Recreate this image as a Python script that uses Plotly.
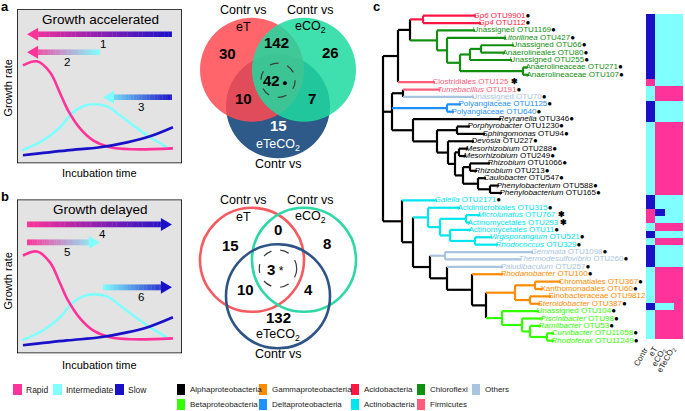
import plotly.graph_objects as go

W, H = 685, 411
FONT = "Liberation Sans, Arial, sans-serif"

RAPID, INTER, SLOW = "#FF3399", "#80FFFF", "#1A10C8"

# ---------------- panels a / b : schematic growth curves (time 0-10, rate 0-10) ----------------
rapid_t = [0.36, 1.21, 2.0, 2.61, 3.09, 3.82, 4.61, 5.64, 7.03, 9.45]
rapid_r = [6.36, 6.62, 5.91, 4.55, 3.44, 2.27, 1.49, 1.04, 0.91, 0.97]
inter_t = [0.30, 1.58, 2.61, 3.33, 4.0, 4.61, 5.45, 6.24, 7.03, 8.06, 9.09]
inter_r = [0.84, 1.49, 2.34, 3.25, 3.70, 3.83, 3.70, 3.12, 2.47, 1.69, 1.04]
slow_t = [0.36, 3.03, 5.03, 6.67, 8.06, 9.45]
slow_r = [0.52, 0.84, 1.04, 1.36, 1.75, 2.34]

arrow_labels_a = ["1", "2", "3"]
arrow_labels_b = ["4", "5", "6"]
arrow_left = [0.61, 0.61, 5.21]
arrow_right = [9.39, 5.03, 9.39]
arrow_level = [8.38, 7.21, 4.29]
arrow_left_color = [RAPID, RAPID, INTER]
arrow_right_color = [SLOW, INTER, SLOW]

# ---------------- Venn diagrams ----------------
venn_regions = ["eT", "eCO2", "eT+eCO2", "all", "eT+eTeCO2", "eCO2+eTeCO2", "eTeCO2"]
venn_a_counts = [30, 26, 142, 42, 10, 7, 15]
venn_b_counts = [15, 8, 0, 3, 10, 4, 132]

# ---------------- panel c : tree ----------------
TREE = {
    "root": [("A", 15), ("M", 9), ("L", 19)],
    "A": [("A1", 12), ("OTU125", 37)],
    "A1": [("Acd", 13), ("Chl", 27)],
    "Acd": [("OTU9901", 53), ("OTU112", 58)],
    "Chl": [("OTU1169", 38), ("C2", 10)],
    "C2": [("OTU427", 59), ("C3", 13)],
    "C3": [("C4", 10), ("C6", 63)],
    "C4": [("C5", 11), ("OTU255", 42)],
    "C5": [("OTU66", 33), ("OTU80", 24)],
    "C6": [("OTU271", 5), ("OTU107", 6)],
    "M": [("T", 11), ("D", 55), ("AL", 21)],
    "T": [("OTU191", 37), ("OTU70", 71)],
    "D": [("OTU1125", 14), ("OTU640", 7)],
    "AL": [("OTU346", 88), ("AL2", 24)],
    "AL2": [("P", 20), ("AL3", 11)],
    "P": [("OTU1230", 13), ("OTU94", 28)],
    "AL3": [("OTU227", 26), ("AL4", 7)],
    "AL4": [("Me", 4), ("AL5", 8)],
    "Me": [("OTU288", 9), ("OTU249", 7)],
    "AL5": [("Rh", 7), ("AL6", 15)],
    "Rh": [("OTU1066", 20), ("OTU213", 7)],
    "AL6": [("OTU547", 8), ("Ph", 12)],
    "Ph": [("OTU588", 9), ("OTU165", 12)],
    "L": [("OTU2171", 35), ("L2", 11)],
    "L2": [("ACT", 15), ("O", 17)],
    "ACT": [("OTU315", 32), ("Ac1", 12)],
    "Ac1": [("Ac2", 26), ("Ac4", 10)],
    "Ac2": [("OTU767", 14), ("OTU293", 4)],
    "Ac4": [("OTU11", 21), ("Ac5", 25)],
    "Ac5": [("OTU521", 17), ("OTU329", 23)],
    "O": [("Op", 15), ("O2", 17)],
    "Op": [("OTU1098", 88), ("OTU260", 76)],
    "O2": [("OTU257", 56), ("G", 25)],
    "G": [("OTU100", 31), ("G2", 14)],
    "G2": [("G3", 29), ("B", 16)],
    "G3": [("G4", 20), ("G5", 15)],
    "G4": [("OTU367", 26), ("OTU60", 8)],
    "G5": [("OTU9812", 21), ("OTU387", 10)],
    "B": [("OTU104", 37), ("B2", 20)],
    "B2": [("OTU98", 21), ("B3", 8)],
    "B3": [("OTU53", 11), ("B4", 17)],
    "B4": [("OTU11058", 7), ("OTU11249", 7)],
}

leaf_otu = ["OTU9901", "OTU112", "OTU1169", "OTU427", "OTU66", "OTU80", "OTU255", "OTU271", "OTU107",
            "OTU125", "OTU191", "OTU70", "OTU1125", "OTU640", "OTU346", "OTU1230", "OTU94", "OTU227",
            "OTU288", "OTU249", "OTU1066", "OTU213", "OTU547", "OTU588", "OTU165", "OTU2171", "OTU315",
            "OTU767", "OTU293", "OTU11", "OTU521", "OTU329", "OTU1098", "OTU260", "OTU257", "OTU100",
            "OTU367", "OTU60", "OTU9812", "OTU387", "OTU104", "OTU98", "OTU53", "OTU11058", "OTU11249"]
leaf_taxon = ["Gp6", "Gp4", "Unassigned", "Litorilinea", "Unassigned", "Anaerolineales", "Unassigned",
              "Anaerolineaceae", "Anaerolineaceae", "Clostridiales", "Tumebacillus", "Unassigned",
              "Polyangiaceae", "Polyangiaceae", "Reyranella", "Porphyrobacter", "Sphingomonas", "Devosia",
              "Mesorhizobium", "Mesorhizobium", "Rhizobium", "Rhizobium", "Caulobacter", "Phenylobacterium",
              "Phenylobacterium", "Gaiella", "Acidimicrobiales", "Microlunatus", "Actinomycetales",
              "Actinomycetales", "Virgisporangium", "Rhodococcus", "Gemmata", "Thermodesulfovibrio",
              "Paludibaculum", "Rhodanobacter", "Chromatiales", "Xanthomonadales", "Sinobacteraceae",
              "Steroidobacter", "Unassigned", "Piscinibacter", "Ramlibacter", "Curvibacter", "Rhodoferax"]
leaf_italic = [1, 1, 0, 1, 0, 0, 0, 0, 0, 0, 1, 0, 0, 0, 1, 1, 1, 1, 1, 1, 1, 1, 1, 1, 1, 1, 0, 1, 0, 0,
               1, 1, 1, 1, 1, 1, 0, 0, 0, 1, 0, 1, 1, 1, 1]
leaf_phylum = ["Acidobacteria"] * 2 + ["Chloroflexi"] * 7 + ["Firmicutes"] * 2 + ["Others"] + \
              ["Deltaproteobacteria"] * 2 + ["Alphaproteobacteria"] * 11 + ["Actinobacteria"] * 7 + \
              ["Others"] * 3 + ["Gammaproteobacteria"] * 5 + ["Betaproteobacteria"] * 5
leaf_mark = ["dot"] * 9 + ["star"] + ["dot"] * 17 + ["star", "star"] + ["dot"] * 16

# growth-rate class per OTU: R = rapid, I = intermediate, S = slow
hm_columns = ["Contr", "eT", "eCO<sub>2</sub>", "eTeCO<sub>2</sub>"]
contr = ["S", "S", "S", "S", "S", "S", "S", "S", "S", "R", "I", "I", "S", "S", "S",
         "I", "I", "I", "I", "I", "I", "I", "I", "I", "I", "S", "S", "R", "R", "I",
         "S", "I", "S", "S", "S", "I", "I", "I", "I", "I", "S", "I", "I", "I", "I"]
eT = ["I", "I", "I", "I", "I", "I", "I", "I", "I", "I", "R", "R", "I", "I", "I",
      "R", "R", "R", "R", "R", "R", "R", "R", "R", "R", "I", "I", "S", "I", "R",
      "I", "R", "I", "I", "I", "R", "R", "R", "R", "R", "I", "R", "R", "R", "R"]
eCO2 = ["I", "I", "I", "I", "I", "I", "I", "I", "I", "I", "R", "R", "I", "I", "I",
        "R", "R", "R", "R", "R", "R", "R", "R", "R", "R", "I", "I", "I", "I", "R",
        "I", "R", "I", "I", "I", "R", "R", "R", "R", "R", "I", "R", "R", "R", "R"]
eTeCO2 = ["I", "I", "I", "I", "I", "I", "I", "I", "I", "I", "R", "R", "I", "I", "I",
          "R", "R", "R", "R", "R", "R", "R", "R", "R", "R", "I", "I", "I", "I", "R",
          "I", "R", "I", "I", "I", "R", "R", "R", "R", "R", "R", "R", "R", "R", "R"]

phyla = ["Alphaproteobacteria", "Betaproteobacteria", "Gammaproteobacteria", "Deltaproteobacteria",
         "Acidobacteria", "Actinobacteria", "Chloroflexi", "Firmicutes", "Others"]
phylum_colors = ["#000000", "#33FF00", "#FF8C00", "#1E90FF", "#FF1744", "#00E5EE", "#118F11",
                 "#FF5C7A", "#A9C4E0"]
PCOL = dict(zip(phyla, phylum_colors))

rate_names = ["Rapid", "Intermediate", "Slow"]
rate_colors = [RAPID, INTER, SLOW]

# ============================ figure ============================
fig = go.Figure()
shapes, annots = [], []


def py(p):
    return 1 - p / H


def ann(**kw):
    d = dict(showarrow=False, xanchor="center", yanchor="middle")
    d.update(kw)
    annots.append(d)


def hex2rgb(h):
    return tuple(int(h[i:i + 2], 16) for i in (1, 3, 5))


def mix(c1, c2, f):
    a, b = hex2rgb(c1), hex2rgb(c2)
    return "rgb(%d,%d,%d)" % tuple(round(a[k] + (b[k] - a[k]) * f) for k in range(3))


# ---- panels a and b ----
for (xa, ya, title, labels, head_left) in [
        ("x", "y", "Growth accelerated", arrow_labels_a, True),
        ("x2", "y2", "Growth delayed", arrow_labels_b, False)]:
    shapes.append(dict(type="rect", xref=xa, yref=ya, x0=0, x1=10, y0=0, y1=10,
                       fillcolor="#E3E3E3", line=dict(color="black", width=1.6), layer="below"))
    for tt, rr, col in [(inter_t, inter_r, INTER), (rapid_t, rapid_r, RAPID), (slow_t, slow_r, SLOW)]:
        fig.add_trace(go.Scatter(x=tt, y=rr, mode="lines", line=dict(color=col, width=2.6, shape="spline"),
                                 xaxis=xa, yaxis=ya, showlegend=False, hoverinfo="skip"))
    ann(xref=xa, yref=ya, x=5.03, y=9.32, text=title, font=dict(size=13.5, color="black", family=FONT))
    thick, hl, hh = 0.37, 0.67, 0.42
    for k in range(3):
        L, R, lev = arrow_left[k], arrow_right[k], arrow_level[k]
        c1, c2 = arrow_left_color[k], arrow_right_color[k]
        b0, b1 = (L + hl, R) if head_left else (L, R - hl)
        n = 36
        for s in range(n):
            xa0 = b0 + (b1 - b0) * s / n
            xa1 = b0 + (b1 - b0) * (s + 1) / n + 0.02
            f = ((xa0 + xa1) / 2 - L) / (R - L)
            shapes.append(dict(type="rect", xref=xa, yref=ya, x0=xa0, x1=min(xa1, b1),
                               y0=lev - thick / 2, y1=lev + thick / 2, fillcolor=mix(c1, c2, f),
                               line=dict(width=0)))
        if head_left:
            path = f"M {L},{lev} L {L + hl},{lev + hh} L {L + hl},{lev - hh} Z"
            hc = c1
        else:
            path = f"M {R},{lev} L {R - hl},{lev + hh} L {R - hl},{lev - hh} Z"
            hc = c2
        shapes.append(dict(type="path", xref=xa, yref=ya, path=path, fillcolor=hc, line=dict(width=0)))
        ann(xref=xa, yref=ya, x=(L + R) / 2 + 0.2, y=lev - 0.62, text=labels[k],
            font=dict(size=11.5, color="black", family=FONT))

for ptxt, yy, ylab in [("a", 7, 88), ("b", 196, 281)]:
    ann(xref="paper", yref="paper", x=5 / W, y=py(yy), text=f"<b>{ptxt}</b>",
        font=dict(size=13, family=FONT, color="black"))
    ann(xref="paper", yref="paper", x=7.5 / W, y=py(ylab), text="Growth rate", textangle=-90,
        font=dict(size=11, family=FONT, color="black"))
for yy in [173, 365]:
    ann(xref="paper", yref="paper", x=100 / W, y=py(yy), text="Incubation time",
        font=dict(size=11, family=FONT, color="black"))
ann(xref="paper", yref="paper", x=376 / W, y=py(7), text="<b>c</b>", font=dict(size=13, family=FONT, color="black"))

# rate legend
for i, (nm, col) in enumerate(zip(rate_names, rate_colors)):
    x0 = [13, 53, 115][i]
    shapes.append(dict(type="rect", xref="paper", yref="paper", x0=x0 / W, x1=(x0 + 9) / W,
                       y0=py(395), y1=py(384), fillcolor=col, line=dict(width=0)))
    ann(xref="paper", yref="paper", x=(x0 + 11) / W, y=py(389.5), text=nm, xanchor="left",
        font=dict(size=8.5, family=FONT, color="#222"))

# phylum legend (column-major, 2 rows)
colx = [177, 259, 351, 417, 472]
for i, (nm, col) in enumerate(zip(phyla, phylum_colors)):
    cx, ry = colx[i // 2], [389.5, 404.5][i % 2]
    shapes.append(dict(type="rect", xref="paper", yref="paper", x0=cx / W, x1=(cx + 8) / W,
                       y0=py(ry + 5.5), y1=py(ry - 5.5), fillcolor=col, line=dict(width=0)))
    ann(xref="paper", yref="paper", x=(cx + 11) / W, y=py(ry), text=nm, xanchor="left",
        font=dict(size=8, family=FONT, color="#222"))

# ---- Venn diagrams ----
vcent = {"red": (-0.5, 0.35), "green": (0.5, 0.35), "blue": (0.0, -0.35)}
pos_a = [(-0.98, 0.67), (1.0, 0.69), (-0.02, 0.88), (-0.05, 0.15), (-0.67, -0.21), (0.65, -0.21), (0, -0.73)]
pos_b = [(-0.92, 0.63), (0.94, 0.67), (0, 0.94), (-0.05, 0.17), (-0.63, -0.23), (0.58, -0.23), (0, -0.75)]


def circ(xr, yr, c, **kw):
    cx, cy = vcent[c]
    d = dict(type="circle", xref=xr, yref=yr, x0=cx - 1, x1=cx + 1, y0=cy - 1, y1=cy + 1)
    d.update(kw)
    return d


shapes.append(circ("x5", "y5", "blue", fillcolor="#2E5A8A", line=dict(width=0)))
shapes.append(circ("x5", "y5", "red", fillcolor="#FF4A50", opacity=0.85, line=dict(width=0)))
shapes.append(circ("x5", "y5", "green", fillcolor="#1ED9A0", opacity=0.85, line=dict(width=0)))
shapes.append(circ("x6", "y6", "red", fillcolor="rgba(0,0,0,0)", line=dict(color="#F65A60", width=2.6)))
shapes.append(circ("x6", "y6", "green", fillcolor="rgba(0,0,0,0)", line=dict(color="#2ED8A6", width=2.6)))
shapes.append(circ("x6", "y6", "blue", fillcolor="rgba(0,0,0,0)", line=dict(color="#2E5486", width=2.6)))
for xr, yr, cy, rr in [("x5", "y5", 0.15, 0.33), ("x6", "y6", 0.18, 0.36)]:
    shapes.append(dict(type="circle", xref=xr, yref=yr, x0=-rr, x1=rr, y0=cy - rr, y1=cy + rr,
                       line=dict(color="#3A3A3A", width=1.2, dash="dash")))

for xr, yr, counts, pos, white_bottom, mark in [
        ("x5", "y5", venn_a_counts, pos_a, True, "<span style='font-size:9px'> ●</span>"),
        ("x6", "y6", venn_b_counts, pos_b, False, "<span style='font-size:12px'> *</span>")]:
    for k, (cnt, (vx, vy)) in enumerate(zip(counts, pos)):
        col = "white" if (white_bottom and k == 6) else "black"
        txt = f"<b>{cnt}</b>" + (mark if k == 3 else "")
        ann(xref=xr, yref=yr, x=vx, y=vy, text=txt, font=dict(size=15, color=col, family=FONT))
    ttop = 1.5
    for vx, t1 in [(-0.67, "eT"), (0.62, "eCO<sub>2</sub>")]:
        ann(xref=xr, yref=yr, x=vx, y=ttop, text="Contr vs", font=dict(size=12.5, color="black", family=FONT))
        ann(xref=xr, yref=yr, x=vx, y=ttop - 0.33, text=t1, font=dict(size=12.5, color="black", family=FONT))
    ann(xref=xr, yref=yr, x=0, y=-1.1, text="eTeCO<sub>2</sub>",
        font=dict(size=12.5, color="white" if white_bottom else "black", family=FONT))
    ann(xref=xr, yref=yr, x=0, y=-1.47, text="Contr vs", font=dict(size=12.5, color="black", family=FONT))

# ---- tree layout from branch lengths ----
xs, ys, order, leafset = {}, {}, [], {}


def rec(node, depth):
    xs[node] = depth
    if node in TREE:
        s = set()
        for ch, bl in TREE[node]:
            s |= rec(ch, depth + bl)
        ys[node] = (ys[TREE[node][0][0]] + ys[TREE[node][-1][0]]) / 2
    else:
        ys[node] = len(order)
        order.append(node)
        s = {leaf_phylum[leaf_otu.index(node)]}
    leafset[node] = s
    return s


rec("root", 0)


def ncol(node):
    s = leafset[node]
    return PCOL[next(iter(s))] if len(s) == 1 else "#000000"


segs = {}
for node, kids in TREE.items():
    c = ncol(node)
    segs.setdefault(c, ([], []))
    segs[c][0].extend([xs[node], xs[node], None])
    segs[c][1].extend([ys[kids[0][0]], ys[kids[-1][0]], None])
    for ch, bl in kids:
        cc = ncol(ch)
        segs.setdefault(cc, ([], []))
        segs[cc][0].extend([xs[node], xs[ch], None])
        segs[cc][1].extend([ys[ch], ys[ch], None])
for c, (sx, sy) in segs.items():
    fig.add_trace(go.Scatter(x=sx, y=sy, mode="lines", line=dict(color=c, width=2.2),
                             xaxis="x3", yaxis="y3", showlegend=False, hoverinfo="skip"))

lab_x, lab_y, lab_t, lab_c = [], [], [], []
for i, otu in enumerate(leaf_otu):
    nm = f"<i>{leaf_taxon[i]}</i>" if leaf_italic[i] else leaf_taxon[i]
    mk = " <span style='color:#000'><b>✱</b></span>" if leaf_mark[i] == "star" else \
        "<span style='color:#000'>●</span>"
    lab_x.append(xs[otu] - 2.5)
    lab_y.append(ys[otu])
    lab_t.append(f"{nm} {otu}{mk}")
    lab_c.append(PCOL[leaf_phylum[i]])
fig.add_trace(go.Scatter(x=lab_x, y=lab_y, mode="text", text=lab_t, textposition="middle right",
                         textfont=dict(size=8, color=lab_c, family=FONT), xaxis="x3", yaxis="y3",
                         cliponaxis=False, showlegend=False, hoverinfo="skip"))

# ---- heatmap ----
code = {"R": 0, "I": 1, "S": 2}
z = [[code[a], code[b], code[c], code[d]] for a, b, c, d in zip(contr, eT, eCO2, eTeCO2)]
fig.add_trace(go.Heatmap(z=z, x=[0, 1, 2, 3], y=list(range(len(z))), zmin=0, zmax=2, showscale=False,
                         colorscale=[[0, RAPID], [0.333, RAPID], [0.333, INTER], [0.667, INTER],
                                     [0.667, SLOW], [1, SLOW]],
                         xaxis="x4", yaxis="y4", hoverinfo="skip"))
for k, lab in enumerate(hm_columns):
    ann(xref="x4", yref="paper", x=k + 0.25, y=py(343), text=lab, textangle=-60,
        xanchor="right", yanchor="top", font=dict(size=8, color="#222", family=FONT))

# ---- axes ----
nleaf = len(leaf_otu)
y0px, step = 15.7, 7.386
hidden = dict(visible=False, showgrid=False, zeroline=False, fixedrange=True)
fig.update_layout(
    width=W, height=H, margin=dict(l=0, r=0, t=0, b=0),
    paper_bgcolor="white", plot_bgcolor="rgba(0,0,0,0)", showlegend=False,
    xaxis=dict(domain=[17 / W, 182 / W], range=[0, 10], anchor="y", **hidden),
    yaxis=dict(domain=[py(163.3), py(9.3)], range=[0, 10], anchor="x", **hidden),
    xaxis2=dict(domain=[17 / W, 182 / W], range=[0, 10], anchor="y2", **hidden),
    yaxis2=dict(domain=[py(353.3), py(199.5)], range=[0, 10], anchor="x2", **hidden),
    xaxis3=dict(domain=[360 / W, 640 / W], range=[-23, 257], anchor="y3", **hidden),
    yaxis3=dict(domain=[0, 1], range=[(H - y0px) / step, -y0px / step], anchor="x3", **hidden),
    xaxis4=dict(domain=[646 / W, 683 / W], range=[-0.5, 3.5], anchor="y4", **hidden),
    yaxis4=dict(domain=[py(339), py(14)], range=[nleaf - 0.5, -0.5], anchor="x4", **hidden),
    xaxis5=dict(domain=[190 / W, 366 / W], range=[-88 / 52, 88 / 52], anchor="y5", **hidden),
    yaxis5=dict(domain=[py(180), py(0)], range=[-92 / 52, 88 / 52], anchor="x5", **hidden),
    xaxis6=dict(domain=[190 / W, 366 / W], range=[-88 / 52, 88 / 52], anchor="y6", **hidden),
    yaxis6=dict(domain=[py(370), py(190)], range=[-92 / 52, 88 / 52], anchor="x6", **hidden),
    shapes=shapes, annotations=annots,
    font=dict(family=FONT),
)

fig.write_html("out.html", config={"displayModeBar": False, "staticPlot": True},
               post_script="document.body.style.margin='0';document.body.style.padding='0';")
